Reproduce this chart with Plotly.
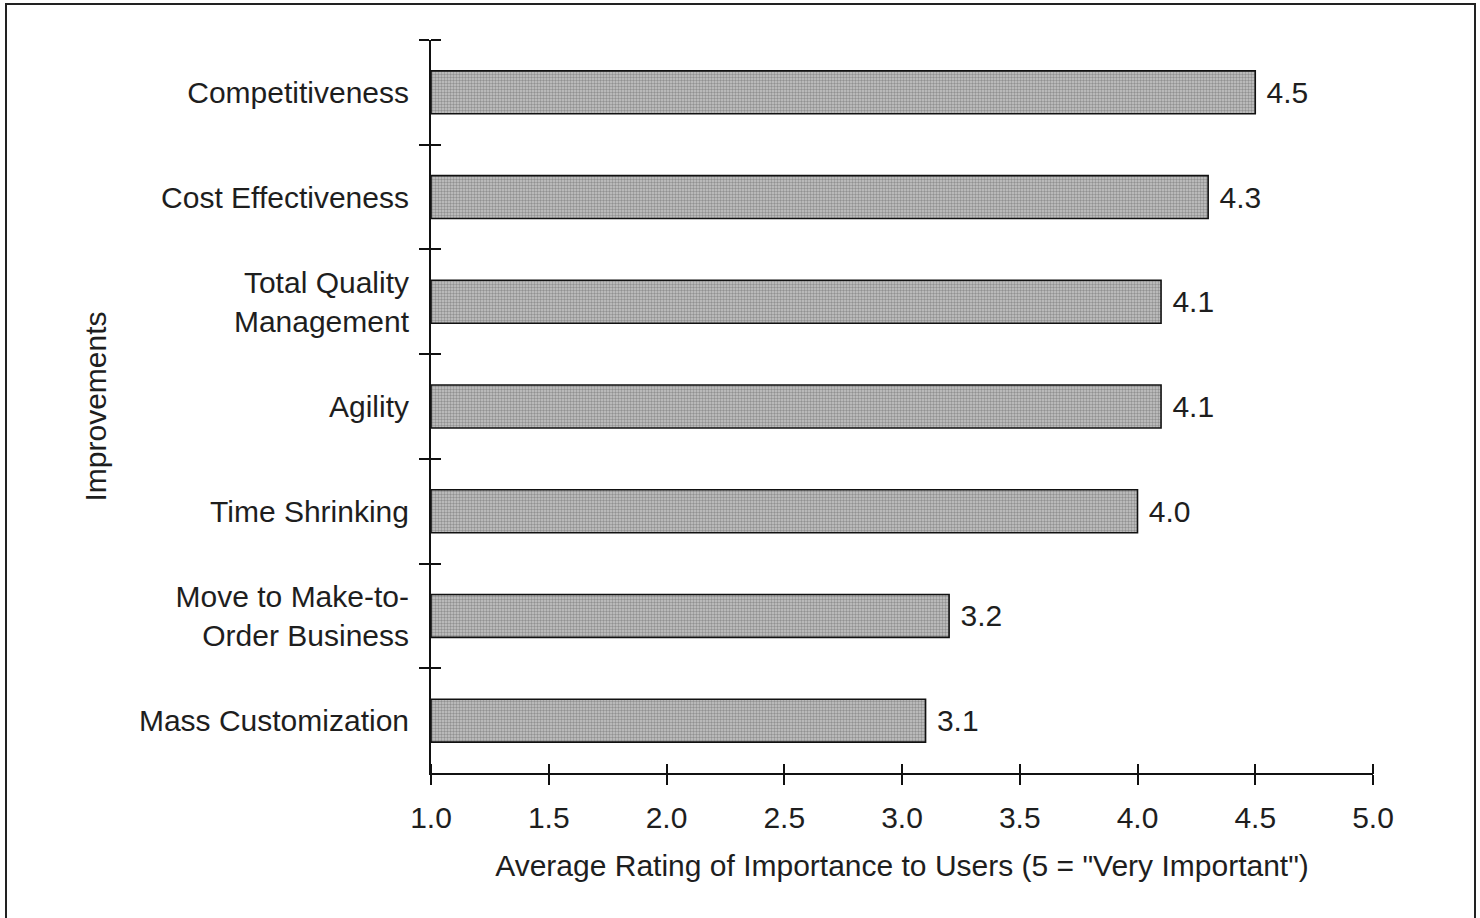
import plotly.graph_objects as go

categories = [
    "Competitiveness",
    "Cost Effectiveness",
    "Total Quality<br>Management",
    "Agility",
    "Time Shrinking",
    "Move to Make-to-<br>Order Business",
    "Mass Customization",
]
ratings = [4.5, 4.3, 4.1, 4.1, 4.0, 3.2, 3.1]
x_ticks = [1.0, 1.5, 2.0, 2.5, 3.0, 3.5, 4.0, 4.5, 5.0]
x_title = 'Average Rating of Importance to Users (5 = "Very Important")'
y_title = "Improvements"

FONT = "Liberation Sans, Arial, sans-serif"
FS = 30
INK = "#1e1e1e"

n = len(categories)

fig = go.Figure()
fig.add_trace(go.Bar(
    x=[r - 1.0 for r in ratings], y=categories, orientation="h", base=1.0,
    marker=dict(
        color="#b5b5b5",
        line=dict(color="#111111", width=1.6),
        pattern=dict(shape=".", fgcolor="#5c5c5c", bgcolor="#c6c6c6", size=3, solidity=0.5),
    ),
    text=[f" {v:.1f}" for v in ratings], textposition="outside",
    textfont=dict(family=FONT, size=FS, color=INK),
    cliponaxis=False, showlegend=False, hoverinfo="skip",
))
# helper trace so that the second pair of axes (inner tick halves) is drawn
fig.add_trace(go.Scatter(
    x=ratings, y=categories, xaxis="x2", yaxis="y2", mode="markers",
    marker=dict(opacity=0), showlegend=False, hoverinfo="skip",
))

TL = 10
fig.update_layout(
    width=1480, height=918,
    margin=dict(l=431, r=107, t=40, b=145),
    paper_bgcolor="white", plot_bgcolor="white",
    font=dict(family=FONT, size=FS, color=INK),
    bargap=0.59,
    xaxis=dict(
        range=[1.0, 5.0], tickvals=x_ticks, ticktext=[f"{t:.1f}" for t in x_ticks],
        showgrid=False, zeroline=False, showline=True, linecolor="#111", linewidth=2,
        ticks="outside", ticklen=TL, tickwidth=2, tickcolor="#111",
        ticklabelstandoff=7,
        title=dict(text=x_title, font=dict(size=FS), standoff=22),
    ),
    xaxis2=dict(
        overlaying="x", anchor="free", position=TL / 733, side="bottom",
        range=[1.0, 5.0], tickvals=x_ticks,
        showticklabels=False, showgrid=False, zeroline=False, showline=False,
        ticks="outside", ticklen=TL, tickwidth=2, tickcolor="#111",
    ),
    yaxis=dict(
        type="category", categoryarray=categories, categoryorder="array",
        range=[n - 0.5, -0.5], showgrid=False, zeroline=False,
        showline=True, linecolor="#111", linewidth=2,
        ticks="outside", tickson="boundaries", ticklen=TL, tickwidth=2, tickcolor="#111",
        ticklabelstandoff=14,
        title=dict(text=y_title, font=dict(size=FS), standoff=23),
    ),
    yaxis2=dict(
        overlaying="y", anchor="free", position=TL / 942, side="left", type="category",
        categoryarray=categories, categoryorder="array",
        range=[n - 0.5, -0.5], showticklabels=False, showgrid=False, zeroline=False,
        showline=False, ticks="outside", tickson="boundaries",
        ticklen=TL, tickwidth=2, tickcolor="#111",
    ),
    shapes=[dict(
        type="rect", xref="paper", yref="paper",
        x0=(6 - 431) / 942, x1=(1475 - 431) / 942,
        y0=(773 - 930) / 733, y1=(773 - 4) / 733,
        line=dict(color="#222", width=2), fillcolor="rgba(0,0,0,0)", layer="below",
    )],
)

fig.write_html("out.html")
